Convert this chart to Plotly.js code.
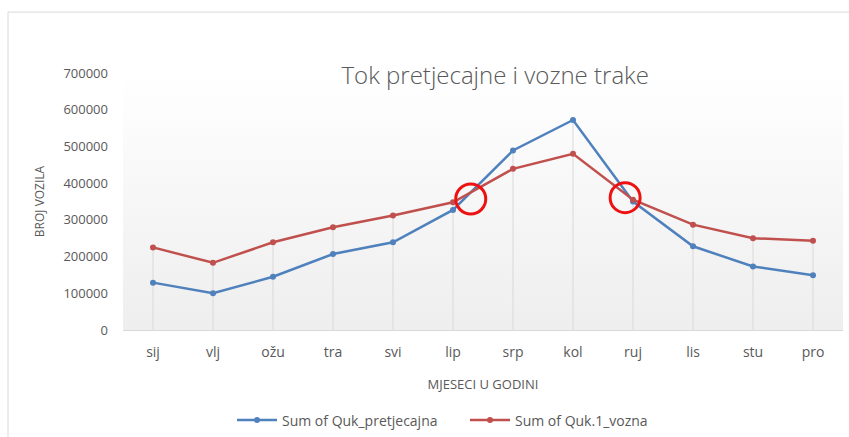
<!DOCTYPE html>
<html>
<head>
<meta charset="utf-8">
<script src="https://cdn.plot.ly/plotly-3.0.1.min.js"></script>
<style>html,body{margin:0;padding:0;background:#fff;}#chart{width:849px;height:437px;}</style>
</head>
<body>
<div id="chart"></div>
<script>
var months = ["sij","vlj","ožu","tra","svi","lip","srp","kol","ruj","lis","stu","pro"];
var pretjecajna = [129000,100000,145000,207000,239000,327000,489000,572000,350000,228000,173000,149000];
var vozna = [225000,183000,239000,280000,312000,348000,439000,480000,355000,287000,250000,243000];
var yTicks = [0,100000,200000,300000,400000,500000,600000,700000];

var fontFam = "'Open Sans', sans-serif";
var gray = "#595959";

// drop lines from axis to the higher of the two points
var dropX = [], dropY = [];
months.forEach(function(m, i){
  dropX.push(m, m, null);
  dropY.push(0, Math.max(pretjecajna[i], vozna[i]), null);
});

// crossing points of the two series (for the hand-drawn red circles)
var crossings = [];
for (var i = 0; i < months.length - 1; i++) {
  var d0 = pretjecajna[i] - vozna[i], d1 = pretjecajna[i+1] - vozna[i+1];
  if (d0 * d1 < 0) {
    var t = d0 / (d0 - d1);
    crossings.push({x: i + t, y: vozna[i] + t * (vozna[i+1] - vozna[i])});
  }
}
var circleNudgeX = [0, -0.08];
var circleNudgeY = [-18000, -1000];

var traces = [
  {x: dropX, y: dropY, mode: 'lines', line: {color: '#d9d9d9', width: 1}, showlegend: false, hoverinfo: 'skip'},
  {x: months, y: pretjecajna, name: 'Sum of Quk_pretjecajna', mode: 'lines+markers',
   line: {color: '#4f81bd', width: 2.5}, marker: {color: '#4f81bd', size: 6}},
  {x: months, y: vozna, name: 'Sum of Quk.1_vozna', mode: 'lines+markers',
   line: {color: '#c0504d', width: 2.5}, marker: {color: '#c0504d', size: 6}}
];

var grad = '<svg xmlns="http://www.w3.org/2000/svg" width="10" height="100" preserveAspectRatio="none"><defs><linearGradient id="g" x1="0" y1="0" x2="0" y2="1"><stop offset="0" stop-color="#ffffff"/><stop offset="1" stop-color="#eeeeee"/></linearGradient></defs><rect width="10" height="100" fill="url(#g)"/></svg>';

var shapes = [
  {type: 'line', xref: 'paper', yref: 'paper', x0: -0.1597, x1: -0.1597, y0: 1.237, y1: -0.45, line: {color: '#d9d9d9', width: 1}},
  {type: 'line', xref: 'paper', yref: 'paper', x0: -0.1597, x1: 1.05, y0: 1.237, y1: 1.237, line: {color: '#d9d9d9', width: 1}}
];
crossings.forEach(function(c, k){
  shapes.push({type: 'circle', xref: 'x', yref: 'y', xsizemode: 'pixel', ysizemode: 'pixel',
    xanchor: c.x + (circleNudgeX[k] || 0), yanchor: c.y + (circleNudgeY[k] || 0),
    x0: -15, x1: 15, y0: -15, y1: 15,
    line: {color: '#ee1111', width: 3}});
});

var layout = {
  width: 849, height: 437,
  margin: {l: 123, r: 6, t: 73, b: 107, autoexpand: false},
  paper_bgcolor: '#ffffff', plot_bgcolor: 'rgba(0,0,0,0)',
  font: {family: fontFam, color: gray, size: 12},
  title: {text: 'Tok pretjecajne i vozne trake', font: {family: fontFam, size: 24, color: gray, weight: 300},
          x: 0.517, xanchor: 'center', y: 0.828, yanchor: 'middle', xref: 'paper'},
  xaxis: {type: 'category', categoryorder: 'array', categoryarray: months, range: [-0.5, 11.5],
          showgrid: false, zeroline: false, showline: true, linecolor: '#d9d9d9', linewidth: 1,
          ticks: '', tickfont: {size: 14, color: gray}, ticklabelstandoff: 9,
          title: {text: 'MJESECI U GODINI', font: {size: 13, color: gray}, standoff: 20}},
  yaxis: {range: [0, 700000], tickvals: yTicks, ticktext: yTicks.map(String),
          showgrid: false, zeroline: false, showline: false, ticks: '', ticklabelstandoff: 14,
          tickfont: {size: 13, color: gray},
          title: {text: 'BROJ VOZILA', font: {size: 12, color: gray}, standoff: 16}},
  legend: {orientation: 'h', x: 0.475, xanchor: 'center', y: -0.352, yanchor: 'middle',
           font: {size: 14, color: gray}, itemwidth: 40, entrywidth: 178, tracegroupgap: 0},
  images: [{source: 'data:image/svg+xml;charset=utf-8,' + encodeURIComponent(grad),
            xref: 'paper', yref: 'paper', x: 0, y: 1, sizex: 1, sizey: 1, sizing: 'stretch',
            xanchor: 'left', yanchor: 'top', layer: 'below'}],
  shapes: shapes,
  showlegend: true
};

Plotly.newPlot('chart', traces, layout, {displayModeBar: false, staticPlot: true});
</script>
</body>
</html>
